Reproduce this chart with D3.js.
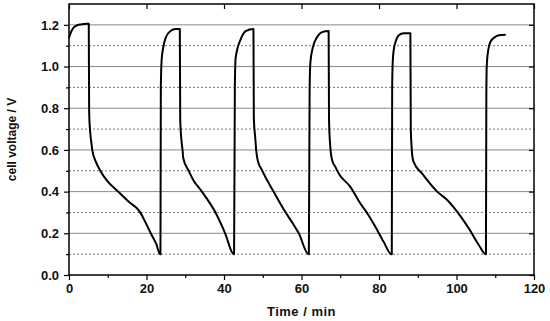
<html>
<script src='https://d3js.org/d3.v7.min.js'></script>
<style>
body { margin: 0; background: #fff; }
text { font-family: Arial, "Liberation Sans", sans-serif; }
</style>
<body>
<div id="chart"></div>
<script>
// time (min) and cell voltage (V)
var timeMin = [0,0.5,1.1,2,3,4.6,5.1,5.2,5.5,5.8,6.0,7,8,9.7,12.7,15.5,18.3,19.8,21.1,22.5,23.5,
  23.6,23.7,23.9,24.3,25,26.2,27.5,28.6,28.7,29.0,29.3,29.5,30.8,32.1,34.3,37.7,40.3,42.5,
  42.6,42.8,43,44.3,45.6,47.6,47.7,48.1,48.3,48.7,49.8,52.8,55.8,57.5,59.3,61.8,
  61.9,62.1,62.3,62.9,64,65.3,67,67.1,67.3,67.9,68.7,69.6,72.6,75.2,77.3,79.1,81.2,83.2,
  83.3,83.4,83.5,83.8,84.3,85.1,86.4,88.1,88.2,88.4,88.6,89.0,91.1,95,97.6,100.2,103.2,105.8,107.5,
  107.6,107.7,107.8,108.2,108.8,109.6,110.9,112.7];
var voltage = [1.137,1.165,1.185,1.197,1.202,1.205,1.205,0.78,0.68,0.63,0.6,0.54,0.503,0.455,0.40,0.35,0.303,0.25,0.2,0.15,0.1,
  0.1,0.9,1.03,1.09,1.14,1.17,1.18,1.18,0.75,0.65,0.6,0.56,0.503,0.455,0.40,0.303,0.2,0.1,
  0.1,0.9,1.04,1.13,1.17,1.18,0.75,0.65,0.6,0.55,0.503,0.4,0.303,0.255,0.2,0.1,
  0.1,0.9,1.02,1.09,1.14,1.165,1.17,0.75,0.65,0.55,0.52,0.487,0.423,0.343,0.287,0.23,0.159,0.1,
  0.1,0.9,1.0,1.08,1.12,1.15,1.16,1.16,0.7,0.62,0.57,0.54,0.487,0.4,0.36,0.303,0.223,0.143,0.1,
  0.1,0.85,1.0,1.08,1.12,1.137,1.15,1.152];

var xTicks = [0,20,40,60,80,100,120];
var xMinor = [10,30,50,70,90,110];
var yTicks = [0.0,0.2,0.4,0.6,0.8,1.0,1.2];
var yMinor = [0.1,0.3,0.5,0.7,0.9,1.1];

var W = 550, H = 321;
var margin = {top: 4, right: 16, bottom: 46, left: 69};
var width = W - margin.left - margin.right,
    height = H - margin.top - margin.bottom;

var svg = d3.select("#chart").append("svg")
  .attr("width", W).attr("height", H);
var g = svg.append("g").attr("transform", "translate(" + margin.left + "," + margin.top + ")");

var x = d3.scaleLinear().domain([0,120]).range([0, width]);
var y = d3.scaleLinear().domain([0,1.3]).range([height, 0]);

// grid lines
g.selectAll(".gmaj").data(yTicks.slice(1)).enter().append("line")
  .attr("x1", 0).attr("x2", width)
  .attr("y1", d => y(d)).attr("y2", d => y(d))
  .attr("stroke", "#8a8a8a").attr("stroke-width", 1);
g.selectAll(".gmin").data(yMinor).enter().append("line")
  .attr("x1", 0).attr("x2", width)
  .attr("y1", d => y(d)).attr("y2", d => y(d))
  .attr("stroke", "#777").attr("stroke-width", 1).attr("stroke-dasharray", "2,2");

// axes
var bottom = g.append("g").attr("transform", "translate(0," + height + ")")
  .call(d3.axisBottom(x).tickValues(xTicks).tickSize(5).tickSizeOuter(0).tickPadding(4).tickFormat(d3.format("d")));
g.append("g").attr("transform", "translate(0," + height + ")")
  .call(d3.axisBottom(x).tickValues(xMinor).tickSize(3).tickFormat(""));
var left = g.append("g")
  .call(d3.axisLeft(y).tickValues(yTicks).tickSize(5).tickSizeOuter(0).tickPadding(5).tickFormat(d3.format(".1f")));
g.append("g").call(d3.axisLeft(y).tickValues(yMinor).tickSize(3).tickFormat(""));
g.append("g").call(d3.axisTop(x).tickValues(xTicks).tickSize(-5).tickSizeOuter(0).tickFormat(""));
g.append("g").attr("transform", "translate(" + width + ",0)")
  .call(d3.axisRight(y).tickValues(yTicks).tickSize(-5).tickSizeOuter(0).tickFormat(""));

g.selectAll(".domain").remove();
g.selectAll(".tick line").attr("stroke", "#000").attr("stroke-width", 1.2);
g.selectAll(".tick text").attr("font-size", 13).attr("font-weight", "bold")
  .attr("font-family", "Arial, 'Liberation Sans', sans-serif").attr("fill", "#111");

// frame
g.append("rect").attr("width", width).attr("height", height)
  .attr("fill", "none").attr("stroke", "#000").attr("stroke-width", 1.5);

// curve
var pts = timeMin.map((t, i) => [t, voltage[i]]);
g.append("path").datum(pts)
  .attr("fill", "none").attr("stroke", "#000").attr("stroke-width", 2)
  .attr("stroke-linejoin", "round")
  .attr("d", d3.line().x(d => x(d[0])).y(d => y(d[1])).curve(d3.curveMonotoneX));

// labels
svg.append("text")
  .attr("transform", "translate(16," + (margin.top + height / 2) + ") rotate(-90)")
  .attr("text-anchor", "middle")
  .attr("font-size", 12).attr("font-weight", "bold").attr("fill", "#111")
  .text("cell voltage / V");
svg.append("text")
  .attr("x", margin.left + width / 2).attr("y", 316)
  .attr("text-anchor", "middle")
  .attr("font-size", 13).attr("font-weight", "bold").attr("fill", "#111")
  .style("letter-spacing", "0.5px")
  .text("Time / min");
</script>
</body>
</html>
